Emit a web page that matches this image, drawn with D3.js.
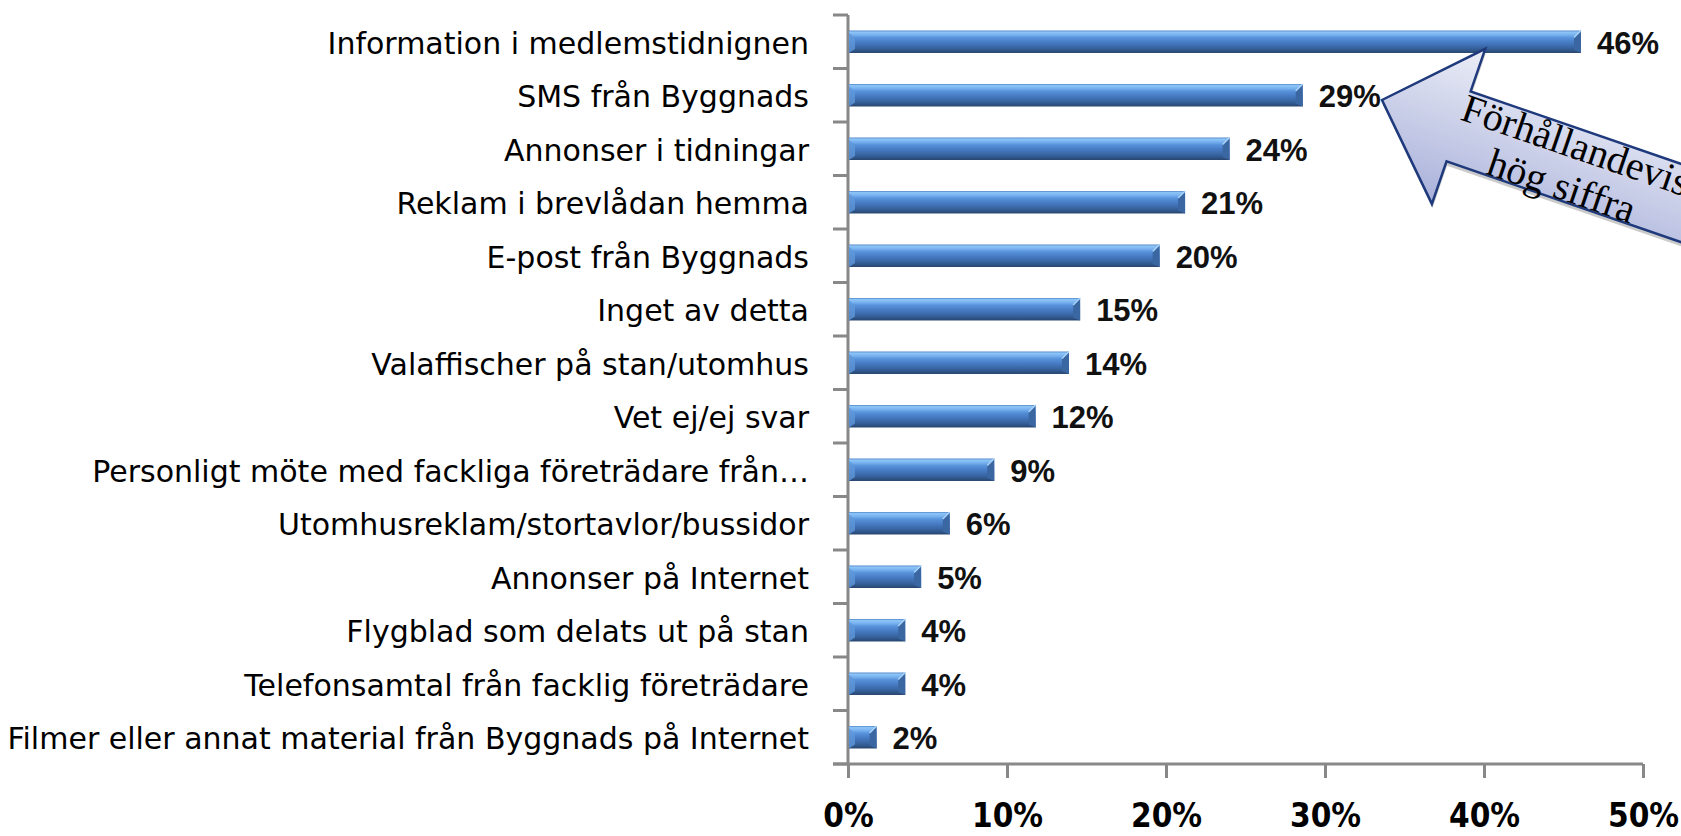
<!DOCTYPE html>
<html>
<head>
<meta charset="utf-8">
<script src="https://cdn.jsdelivr.net/npm/d3@7"></script>
<style>
  body { margin: 0; background: #fff; }
  svg { display: block; }
</style>
</head>
<body>
<svg id="chart" width="1681" height="836"></svg>
<script>
// data
var categories = [
  "Information i medlemstidnignen",
  "SMS från Byggnads",
  "Annonser i tidningar",
  "Reklam i brevlådan hemma",
  "E-post från Byggnads",
  "Inget av detta",
  "Valaffischer på stan/utomhus",
  "Vet ej/ej svar",
  "Personligt möte med fackliga företrädare från…",
  "Utomhusreklam/stortavlor/bussidor",
  "Annonser på Internet",
  "Flygblad som delats ut på stan",
  "Telefonsamtal från facklig företrädare",
  "Filmer eller annat material från Byggnads på Internet"
];
var values = [0.461, 0.286, 0.240, 0.212, 0.196, 0.146, 0.139, 0.118, 0.092, 0.064, 0.046, 0.036, 0.036, 0.018];
var xTicks = [0, 0.1, 0.2, 0.3, 0.4, 0.5];
var arrowLines = ["Förhållandevis", "hög siffra"];

var svg = d3.select("#chart");
var fmt = d3.format(".0%");

var x = d3.scaleLinear().domain([0, 0.5]).range([848, 1643]);
var y = d3.scaleBand().domain(categories).range([15, 764])
  .paddingInner(0.58).paddingOuter(0.29);

var defs = svg.append("defs");
var barGrad = defs.append("linearGradient").attr("id", "barGrad")
  .attr("x1", 0).attr("y1", 0).attr("x2", 0).attr("y2", 1);
[[0, "#4f84c8"], [0.07, "#8fc6f8"], [0.2, "#76b0ee"], [0.32, "#5893db"],
 [0.55, "#4579c1"], [0.72, "#3b69a8"], [0.88, "#30578b"], [1, "#27446c"]]
  .forEach(function (s) {
    barGrad.append("stop").attr("offset", s[0]).attr("stop-color", s[1]);
  });

var arrowGrad = defs.append("linearGradient").attr("id", "arrowGrad")
  .attr("x1", 0).attr("y1", 0).attr("x2", 0).attr("y2", 1);
arrowGrad.append("stop").attr("offset", 0).attr("stop-color", "#eceef7");
arrowGrad.append("stop").attr("offset", 1).attr("stop-color", "#a9b1da");

// axes
var axisColor = "#888888";
svg.append("line")
  .attr("x1", x(0)).attr("x2", x(0))
  .attr("y1", y.range()[0]).attr("y2", y.range()[1])
  .attr("stroke", axisColor).attr("stroke-width", 3);

svg.selectAll(".ytick").data(d3.range(categories.length + 1)).enter().append("line")
  .attr("class", "ytick")
  .attr("x1", x(0) - 15).attr("x2", x(0))
  .attr("y1", function (i) { return y.range()[0] + i * y.step(); })
  .attr("y2", function (i) { return y.range()[0] + i * y.step(); })
  .attr("stroke", axisColor).attr("stroke-width", 3);

svg.append("line")
  .attr("x1", x(0) - 15).attr("x2", x(0.5))
  .attr("y1", y.range()[1]).attr("y2", y.range()[1])
  .attr("stroke", axisColor).attr("stroke-width", 3);

var xAxis = svg.append("g")
  .attr("transform", "translate(0," + y.range()[1] + ")")
  .call(d3.axisBottom(x).tickValues(xTicks).tickFormat(fmt).tickSize(14).tickPadding(0));
xAxis.select(".domain").remove();
xAxis.selectAll(".tick line").attr("stroke", axisColor).attr("stroke-width", 3);
xAxis.selectAll(".tick text")
  .attr("y", 63).attr("dy", null)
  .attr("fill", "#000")
  .style("font-family", "'DejaVu Sans Condensed', 'DejaVu Sans', sans-serif")
  .style("font-size", "33px")
  .style("font-weight", "bold");

// category labels
svg.selectAll(".cat").data(categories).enter().append("text")
  .attr("class", "cat")
  .attr("x", 809)
  .attr("y", function (d) { return y(d) + y.bandwidth() / 2 + 12; })
  .attr("text-anchor", "end")
  .style("font-family", "'DejaVu Sans', sans-serif")
  .style("font-size", "30px")
  .attr("fill", "#000")
  .text(function (d) { return d; });

// bars
var bars = svg.selectAll(".bar").data(values).enter().append("g").attr("class", "bar");
bars.append("rect")
  .attr("x", x(0) + 1)
  .attr("y", function (d, i) { return y(categories[i]); })
  .attr("width", function (d) { return x(d) - x(0) - 1; })
  .attr("height", y.bandwidth())
  .attr("fill", "url(#barGrad)");
// bevelled right end
bars.append("path")
  .attr("d", function (d, i) {
    var x1 = x(d), y0 = y(categories[i]), y1 = y0 + y.bandwidth(), b = 7;
    return "M" + (x1 - b) + "," + (y0 + b) + "L" + x1 + "," + y0 +
      "L" + x1 + "," + y1 + "L" + (x1 - b) + "," + (y1 - 3) + "Z";
  })
  .attr("fill", "#3a66a2");
bars.append("line")
  .attr("x1", function (d) { return x(d) - 7; })
  .attr("x2", function (d) { return x(d); })
  .attr("y1", function (d, i) { return y(categories[i]) + 7; })
  .attr("y2", function (d, i) { return y(categories[i]); })
  .attr("stroke", "#a9d3fa").attr("stroke-width", 1.5);
// bevelled left end
bars.append("path")
  .attr("d", function (d, i) {
    var x0 = x(0) + 1, y0 = y(categories[i]), y1 = y0 + y.bandwidth(), b = 6;
    return "M" + x0 + "," + (y0 + 2) + "L" + (x0 + b) + "," + (y0 + b + 2) +
      "L" + (x0 + b) + "," + (y1 - 4) + "L" + x0 + "," + y1 + "Z";
  })
  .attr("fill", "#5f97d9").attr("opacity", 0.8);

// value labels
svg.selectAll(".val").data(values).enter().append("text")
  .attr("class", "val")
  .attr("x", function (d) { return x(d) + 16; })
  .attr("y", function (d, i) { return y(categories[i]) + y.bandwidth() / 2 + 12; })
  .style("font-family", "'Liberation Sans', Arial, sans-serif")
  .style("font-size", "31px")
  .style("font-weight", "bold")
  .attr("fill", "#111")
  .text(function (d) { return fmt(d); });

// callout arrow
var tip = [1382, 100], ang = 19;
var headLen = 81, headHalf = 82, shaftHalf = 37, shaftEnd = 420;
var arrowPts = [[0, 0], [headLen, -headHalf], [headLen, -shaftHalf], [shaftEnd, -shaftHalf],
  [shaftEnd, shaftHalf], [headLen, shaftHalf], [headLen, headHalf]];
var arrow = svg.append("g")
  .attr("transform", "translate(" + tip[0] + "," + tip[1] + ") rotate(" + ang + ")");
arrow.append("path")
  .attr("d", d3.line()(arrowPts) + "Z")
  .attr("transform", "translate(2,4)")
  .attr("fill", "#8c8c8c").attr("opacity", 0.45);
arrow.append("path")
  .attr("d", d3.line()(arrowPts) + "Z")
  .attr("fill", "url(#arrowGrad)")
  .attr("stroke", "#1f3a7c").attr("stroke-width", 2.5)
  .attr("stroke-linejoin", "miter");
arrow.selectAll(".atext").data(arrowLines).enter().append("text")
  .attr("class", "atext")
  .attr("x", 198)
  .attr("y", function (d, i) { return -7 + i * 43; })
  .attr("text-anchor", "middle")
  .style("font-family", "'Liberation Serif', 'Times New Roman', serif")
  .style("font-size", "40px")
  .attr("fill", "#000")
  .text(function (d) { return d; });
</script>
</body>
</html>
